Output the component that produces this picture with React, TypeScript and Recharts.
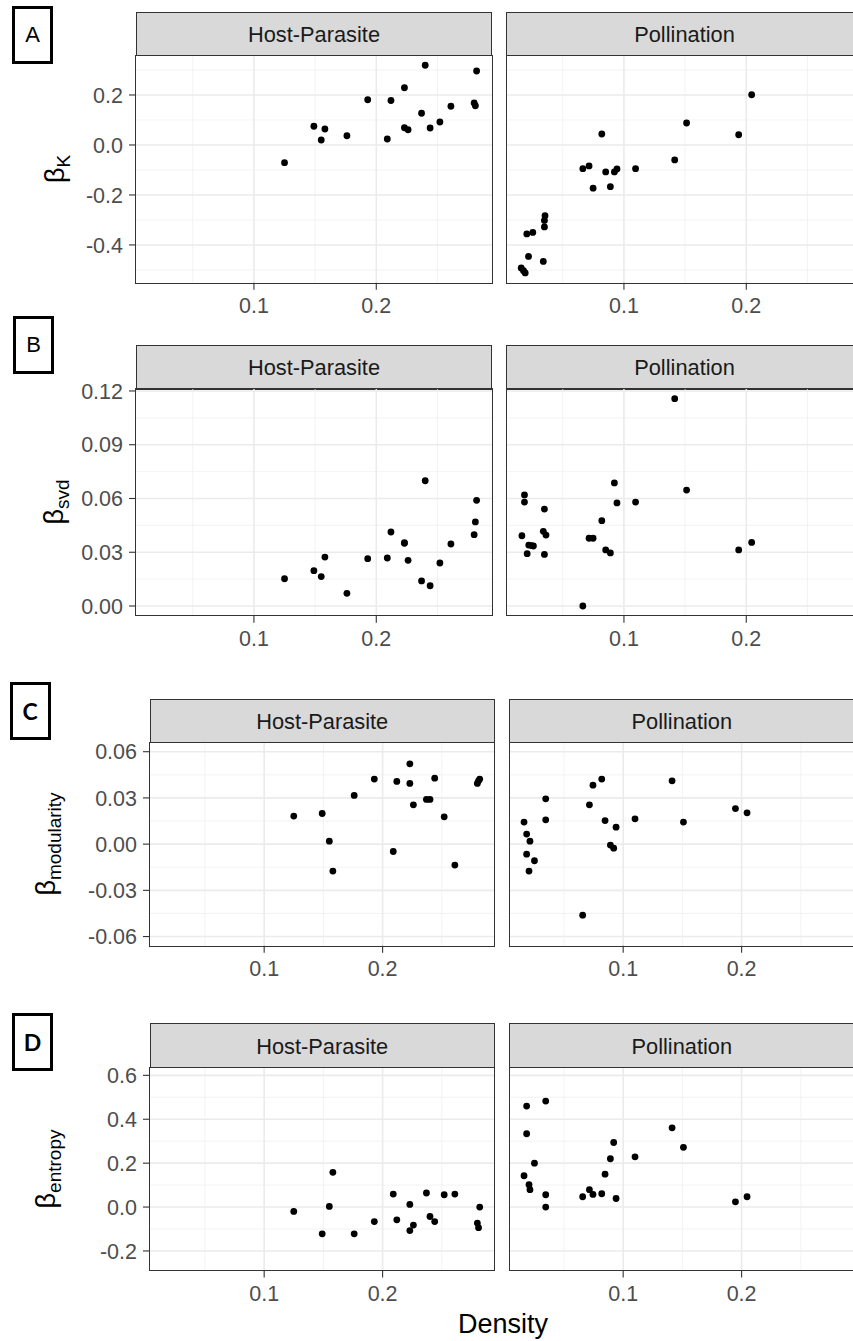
import { ReferenceLine, Scatter, ScatterChart, XAxis, YAxis } from 'recharts'

const FONT = '"Liberation Sans", Arial, sans-serif'

const facets = ['Host-Parasite', 'Pollination']
const densityDomain = [0.0036, 0.2949]
const densityTicks = [0.1, 0.2]
const densityMinor = [0.05, 0.15, 0.25]

// A: beta K
const kTicks = [-0.4, -0.2, 0, 0.2]
const kMinor = [-0.5, -0.3, -0.1, 0.1, 0.3]
const kHost = [
  [0.125, -0.071], [0.149, 0.075], [0.155, 0.02], [0.158, 0.064], [0.176, 0.037],
  [0.193, 0.181], [0.209, 0.024], [0.212, 0.178], [0.223, 0.229], [0.223, 0.069],
  [0.226, 0.061], [0.237, 0.127], [0.24, 0.319], [0.244, 0.068], [0.252, 0.092],
  [0.261, 0.155], [0.28, 0.168], [0.281, 0.157], [0.282, 0.296],
]
const kPoll = [
  [0.016, -0.492], [0.0179, -0.503], [0.0193, -0.512], [0.022, -0.446], [0.0206, -0.356],
  [0.0255, -0.35], [0.0341, -0.466], [0.035, -0.328], [0.035, -0.302], [0.0355, -0.283],
  [0.0664, -0.095], [0.0715, -0.084], [0.0748, -0.173], [0.0819, 0.044], [0.0851, -0.108],
  [0.0889, -0.167], [0.0922, -0.108], [0.0943, -0.096], [0.1095, -0.095], [0.1415, -0.06],
  [0.1512, 0.088], [0.1938, 0.041], [0.2044, 0.201],
]

// B: beta svd
const svdTicks = [0, 0.03, 0.06, 0.09, 0.12]
const svdMinor = [0.015, 0.045, 0.075, 0.105]
const svdHost = [
  [0.125, 0.0152], [0.149, 0.0197], [0.155, 0.0164], [0.158, 0.0273], [0.176, 0.0071],
  [0.193, 0.0264], [0.209, 0.0268], [0.212, 0.0413], [0.223, 0.0353], [0.223, 0.035],
  [0.226, 0.0255], [0.237, 0.014], [0.24, 0.0699], [0.244, 0.0113], [0.252, 0.024],
  [0.261, 0.0346], [0.28, 0.0398], [0.281, 0.0469], [0.282, 0.059],
]
const svdPoll = [
  [0.0166, 0.0392], [0.0187, 0.062], [0.0187, 0.058], [0.0209, 0.0292], [0.0222, 0.034],
  [0.0244, 0.0337], [0.026, 0.0335], [0.035, 0.0541], [0.0341, 0.0417], [0.0363, 0.0396],
  [0.035, 0.0288], [0.0664, 0.0], [0.0715, 0.0378], [0.0748, 0.0378], [0.0819, 0.0476],
  [0.0851, 0.0313], [0.0889, 0.0296], [0.0922, 0.0687], [0.0943, 0.0575], [0.1095, 0.058],
  [0.1415, 0.1157], [0.1512, 0.0647], [0.1938, 0.0313], [0.2044, 0.0355],
]

// C: beta modularity
const modTicks = [-0.06, -0.03, 0, 0.03, 0.06]
const modMinor = [-0.045, -0.015, 0.015, 0.045]
const modHost = [
  [0.125, 0.0182], [0.149, 0.0199], [0.155, 0.0019], [0.158, -0.0175], [0.176, 0.0316],
  [0.193, 0.0422], [0.209, -0.0048], [0.212, 0.0407], [0.223, 0.0521], [0.223, 0.0394],
  [0.226, 0.0255], [0.237, 0.029], [0.24, 0.029], [0.244, 0.0428], [0.252, 0.0177],
  [0.261, -0.0136], [0.28, 0.0394], [0.281, 0.0411], [0.282, 0.0422],
]
const modPoll = [
  [0.0163, 0.0143], [0.0185, 0.0065], [0.0213, 0.0019], [0.0185, -0.0065], [0.0251, -0.0108],
  [0.0205, -0.0175], [0.0346, 0.0294], [0.0346, 0.0158], [0.0658, -0.0461], [0.0715, 0.0255],
  [0.0745, 0.0383], [0.0819, 0.0422], [0.0847, 0.0153], [0.0892, -0.0006], [0.092, -0.0026],
  [0.094, 0.011], [0.11, 0.0164], [0.1413, 0.0411], [0.1509, 0.0143], [0.1948, 0.0231],
  [0.2046, 0.0203],
]

// D: beta entropy
const entTicks = [-0.2, 0, 0.2, 0.4, 0.6]
const entMinor = [-0.1, 0.1, 0.3, 0.5]
const entHost = [
  [0.125, -0.02], [0.149, -0.122], [0.155, 0.003], [0.158, 0.158], [0.176, -0.122],
  [0.193, -0.066], [0.209, 0.059], [0.212, -0.058], [0.223, 0.012], [0.223, -0.107],
  [0.226, -0.082], [0.237, 0.064], [0.24, -0.043], [0.244, -0.066], [0.252, 0.056],
  [0.261, 0.059], [0.28, -0.073], [0.281, -0.094], [0.282, 0.0],
]
const entPoll = [
  [0.0163, 0.1426], [0.0185, 0.46], [0.0185, 0.334], [0.0251, 0.2], [0.0205, 0.1016],
  [0.0213, 0.079], [0.0346, 0.483], [0.0346, 0.056], [0.0346, 0.0], [0.0658, 0.047],
  [0.0715, 0.079], [0.0745, 0.0574], [0.0819, 0.0606], [0.0847, 0.15], [0.0892, 0.22],
  [0.092, 0.294], [0.094, 0.039], [0.11, 0.229], [0.1413, 0.361], [0.1509, 0.272],
  [0.1948, 0.024], [0.2046, 0.047],
]

const rows = [
  {
    letter: 'A', letterBold: false, sub: 'K', box: [12, 6], title: [57, 169],
    stripTop: 12.3, panelTop: 55.3, panelBottom: 283, left: 135.8, right: 506.3, width: 356.4,
    yDomain: [-0.551, 0.36], yTicks: kTicks, yMinor: kMinor, digits: 1, host: kHost, poll: kPoll,
  },
  {
    letter: 'B', letterBold: false, sub: 'svd', box: [13, 316], title: [56, 502],
    stripTop: 345, panelTop: 389, panelBottom: 615.7, left: 135.8, right: 506.3, width: 356.4,
    yDomain: [-0.0054, 0.1211], yTicks: svdTicks, yMinor: svdMinor, digits: 2, host: svdHost, poll: svdPoll,
  },
  {
    letter: 'C', letterBold: true, sub: 'modularity', box: [9.5, 682], title: [48, 844],
    stripTop: 699, panelTop: 742.2, panelBottom: 946, left: 149.7, right: 509.3, width: 345,
    yDomain: [-0.066, 0.0663], yTicks: modTicks, yMinor: modMinor, digits: 2, host: modHost, poll: modPoll,
  },
  {
    letter: 'D', letterBold: true, sub: 'entropy', box: [12, 1013], title: [48, 1169],
    stripTop: 1023.3, panelTop: 1067.2, panelBottom: 1270.7, left: 149.7, right: 509.3, width: 345,
    yDomain: [-0.289, 0.638], yTicks: entTicks, yMinor: entMinor, digits: 1, host: entHost, poll: entPoll,
  },
]

const toPoints = (pairs: number[][]) => pairs.map(([x, y]) => ({ x, y }))

const dot = (p: any) => <circle cx={p.cx} cy={p.cy} r={3.4} fill="#000" />

const Y_AXIS_W = 80
const X_AXIS_H = 40
const TOP_PAD = 16

function Panel({ row, facet, showY }: any) {
  const left = showY ? row.left : row.right
  const height = row.panelBottom - row.panelTop
  const axisW = showY ? Y_AXIS_W : 0
  const data = toPoints(showY ? row.host : row.poll)
  const tickStyle = { fill: '#4D4D4D', fontSize: 21.5, fontFamily: FONT }
  return (
    <>
      <div
        style={{
          position: 'absolute', left, top: row.stripTop, width: row.width, height: row.panelTop - row.stripTop + 0.6,
          background: '#D9D9D9', border: '1.2px solid #333333', boxSizing: 'border-box',
          display: 'flex', alignItems: 'center', justifyContent: 'center',
          fontFamily: FONT, fontSize: 21.8, color: '#1A1A1A', paddingTop: 2,
        }}
      >
        {facet}
      </div>
      <div style={{ position: 'absolute', left: left - axisW, top: row.panelTop - TOP_PAD }}>
        <ScatterChart
          width={row.width + axisW}
          height={height + X_AXIS_H + TOP_PAD}
          margin={{ top: TOP_PAD, right: 0, bottom: 0, left: 0 }}
        >
          <XAxis
            type="number"
            dataKey="x"
            domain={densityDomain}
            ticks={densityTicks}
            interval={0}
            allowDataOverflow
            axisLine={false}
            tickLine={{ stroke: '#333333', strokeWidth: 1.1 }}
            tickSize={7}
            tickMargin={8}
            height={X_AXIS_H}
            tick={tickStyle}
            tickFormatter={(v: number) => v.toFixed(1)}
          />
          <YAxis
            type="number"
            dataKey="y"
            domain={row.yDomain}
            ticks={row.yTicks}
            interval={0}
            allowDataOverflow
            hide={!showY}
            width={axisW}
            axisLine={false}
            tickLine={{ stroke: '#333333', strokeWidth: 1.1 }}
            tickSize={7}
            tickMargin={6}
            tick={tickStyle}
            tickFormatter={(v: number) => v.toFixed(row.digits)}
          />
          {densityMinor.map((v) => (
            <ReferenceLine key={`xm${v}`} x={v} stroke="#F0F0F0" strokeWidth={0.8} />
          ))}
          {row.yMinor.map((v: number) => (
            <ReferenceLine key={`ym${v}`} y={v} stroke="#F0F0F0" strokeWidth={0.8} />
          ))}
          {densityTicks.map((v) => (
            <ReferenceLine key={`xM${v}`} x={v} stroke="#EBEBEB" strokeWidth={1.6} />
          ))}
          {row.yTicks.map((v: number) => (
            <ReferenceLine key={`yM${v}`} y={v} stroke="#EBEBEB" strokeWidth={1.6} />
          ))}
          <Scatter data={data} isAnimationActive={false} shape={dot} />
        </ScatterChart>
      </div>
      <div
        style={{
          position: 'absolute', left: left - 0.6, top: row.panelTop - 0.6, width: row.width + 1.2, height: height + 1.2,
          border: '1.2px solid #333333', boxSizing: 'border-box', pointerEvents: 'none',
        }}
      />
    </>
  )
}

function Row({ row }: any) {
  return (
    <>
      <div
        style={{
          position: 'absolute', left: row.box[0], top: row.box[1], width: 41, height: 58,
          border: '3.5px solid #000', boxSizing: 'border-box', background: '#fff',
          display: 'flex', alignItems: 'center', justifyContent: 'center',
          fontFamily: row.letterBold ? 'Lato, "Liberation Sans", sans-serif' : FONT,
          fontWeight: row.letterBold ? 700 : 400, fontSize: row.letterBold ? 23 : 22, color: '#000',
        }}
      >
        {row.letter}
      </div>
      <div style={{ position: 'absolute', left: row.title[0], top: row.title[1], width: 0, height: 0 }}>
        <div
          style={{
            position: 'absolute', left: 0, top: 0, whiteSpace: 'nowrap', lineHeight: 1,
            transform: 'translate(-50%, -50%) rotate(-90deg)', fontFamily: FONT, fontSize: 27, color: '#000',
          }}
        >
          β<sub style={{ fontSize: 19, verticalAlign: -6 }}>{row.sub}</sub>
        </div>
      </div>
      <Panel row={row} facet={facets[0]} showY />
      <Panel row={row} facet={facets[1]} showY={false} />
    </>
  )
}

export default function App() {
  return (
    <div
      style={{
        position: 'absolute', left: 0, top: 0, width: 853, height: 1341,
        overflow: 'hidden', background: '#fff',
      }}
    >
      {rows.map((r) => (
        <Row key={r.letter} row={r} />
      ))}
      <div
        style={{
          position: 'absolute', left: 503, top: 1310.5, transform: 'translateX(-50%)',
          fontFamily: FONT, fontSize: 27, lineHeight: '27px', color: '#000', whiteSpace: 'nowrap',
        }}
      >
        Density
      </div>
    </div>
  )
}
